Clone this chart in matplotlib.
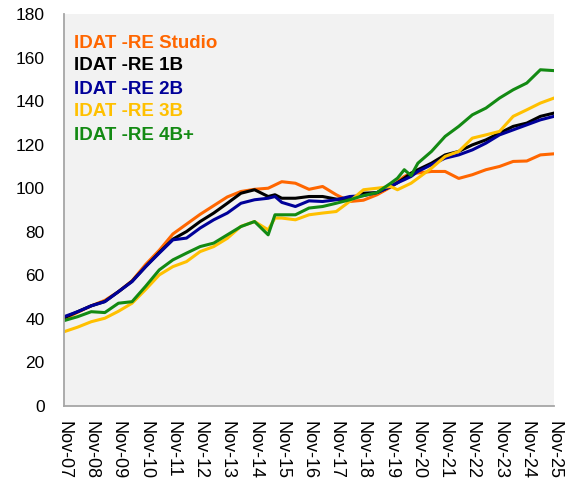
import matplotlib
matplotlib.use("Agg")
import matplotlib.pyplot as plt

plt.rcParams['font.family'] = ['Liberation Sans', 'DejaVu Sans']

# months counted from Nov-07
months = [0, 6, 12, 18, 24, 30, 36, 42, 48, 54, 60, 66, 72, 78, 84, 90, 93, 96,
          102, 108, 114, 120, 126, 132, 138, 144, 147, 150, 153, 156, 162, 168,
          174, 180, 186, 192, 198, 204, 210, 216]

studio = [40, 43, 46, 48.5, 52.5, 57.5, 65, 71.5, 79, 83.5, 88, 92, 96, 98.5, 99.5,
          100, 101.5, 103, 102.3, 99.5, 100.8, 97, 93.9, 94.5, 97, 100.5, 103, 105.4,
          106.9, 107, 107.7, 107.7, 104.5, 106.2, 108.5, 110, 112.3, 112.5, 115.3, 115.8]
re_1b = [40.5, 43.3, 46, 48, 52.5, 57.3, 64, 70.5, 76.6, 80.1, 84.7, 88.6, 93.1, 97.7,
         99.3, 96.2, 97, 95.4, 95.4, 96.2, 96.2, 95, 94.7, 97.7, 98, 100.8, 102.5, 104.6,
         106.9, 108.5, 111.5, 115.3, 116.9, 119.9, 122.2, 125.3, 128.4, 129.9, 133, 134.5]
re_2b = [41, 43.3, 46, 47.9, 52.5, 57.1, 64, 70.2, 76.3, 77.1, 81.7, 85.5, 88.6, 93.1,
         94.7, 95.4, 96.2, 93.5, 91.6, 94.2, 93.9, 94.7, 96.2, 96.6, 98, 100.8, 102.5, 103.9,
         105.4, 107.7, 110.8, 113.8, 115.3, 117.6, 120.7, 124.5, 126.8, 129.1, 131.4, 133]
re_3b = [34.1, 36.2, 38.7, 40.3, 43.5, 47.2, 53.5, 60.2, 64, 66.3, 70.9, 73.2, 77, 82.5,
         84.7, 80.9, 86.3, 86.3, 85.5, 87.8, 88.6, 89.3, 94, 99.3, 100, 100.8, 99.3, 100.8,
         102.3, 104.6, 109.2, 114.6, 116.9, 123, 124.5, 126.1, 133, 136, 139.1, 141.4]
re_4b = [39.2, 41, 43.3, 42.9, 47.2, 47.9, 55, 62.5, 67.1, 70.2, 73.2, 74.8, 78.6, 82.4,
         84.7, 78.6, 87.8, 87.8, 87.8, 90.9, 91.6, 93.1, 94.7, 96.6, 98, 102.3, 104.6, 108.5,
         105.8, 111.5, 116.9, 123.8, 128.4, 133.7, 136.8, 141.4, 145.2, 148.3, 154.4, 154]

names = ["IDAT -RE Studio", "IDAT -RE 1B", "IDAT -RE 2B", "IDAT -RE 3B", "IDAT -RE 4B+"]
colors = ["#FF6600", "#000000", "#000099", "#FFC000", "#138A13"]
series = [studio, re_1b, re_2b, re_3b, re_4b]

tick_labels = ["Nov-%02d" % y for y in range(7, 26)]

fig = plt.figure(figsize=(5.7, 4.79), dpi=100)
ax = fig.add_axes([64 / 570, 1 - 406 / 479, 490 / 570, 392 / 479])
ax.set_facecolor("#F2F2F2")

# later series drawn on top, as in the original
for vals, c in zip(series, colors):
    ax.plot(months, vals, color=c, lw=2.2, solid_joinstyle="round")

ax.set_xlim(0, 216)
ax.set_ylim(0, 180)
ax.set_yticks(range(0, 181, 20))
ax.set_xticks(range(0, 217, 12))
ax.set_xticklabels(tick_labels, rotation=270, ha="center", va="top")
ax.tick_params(axis="y", length=0, pad=14, labelsize=12.5)
ax.tick_params(axis="x", length=0, pad=11, labelsize=13)

for s in ["top", "right"]:
    ax.spines[s].set_visible(False)
for s in ["left", "bottom"]:
    ax.spines[s].set_color("#A6A6A6")
    ax.spines[s].set_linewidth(1.3)

# coloured legend text, one row per series
for i, (name, c) in enumerate(zip(names, colors)):
    y_px = 43 + 23 * i
    ax.text(10 / 490, (406 - y_px) / 392, name, color=c, fontsize=13.5,
            fontweight="bold", transform=ax.transAxes, ha="left", va="center")

fig.savefig("out.png", dpi=100)
